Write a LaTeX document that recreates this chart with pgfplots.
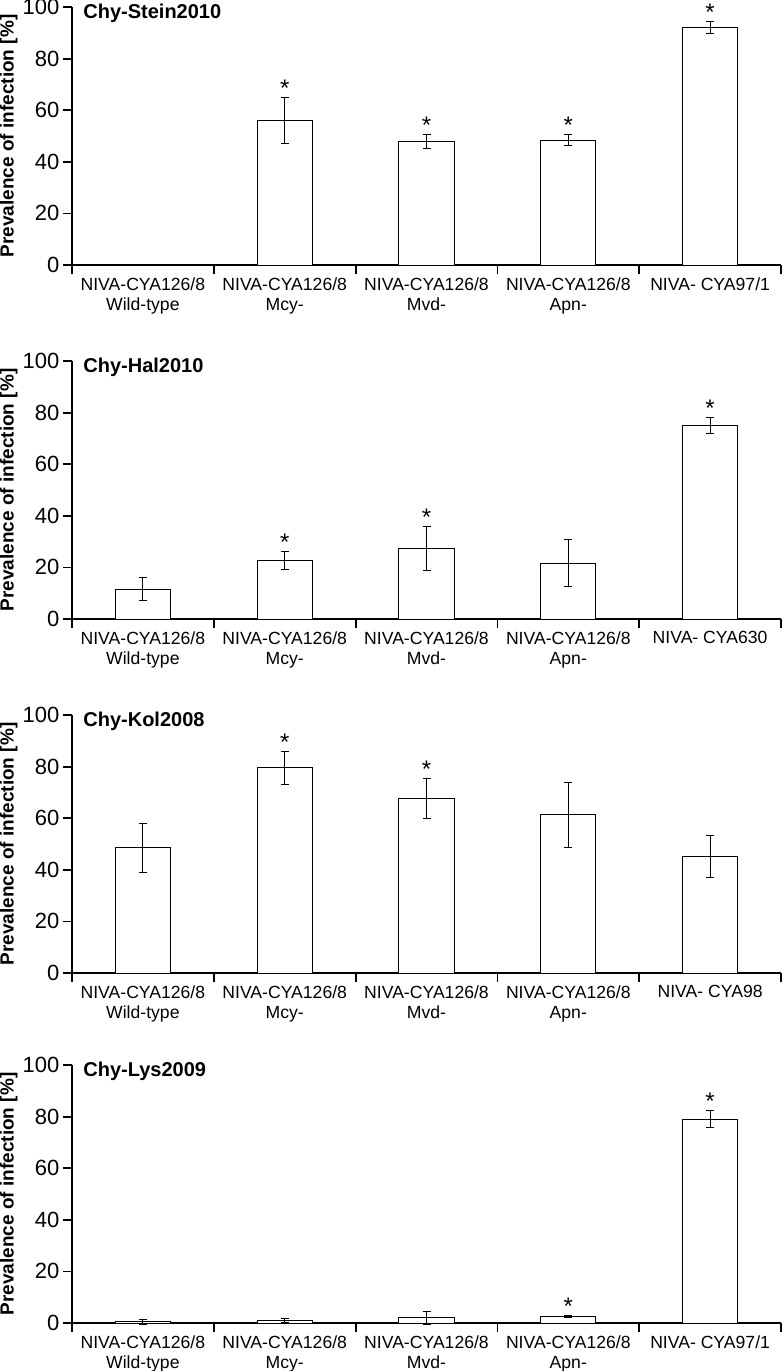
\documentclass[border=0pt]{standalone}
\usepackage{fontspec}
\setmainfont{Liberation Sans}
\usepackage{pgfplots}
\pgfplotsset{compat=1.18}

\pgfplotsset{
  panel/.style={
    scale only axis,
    width=354.5pt, height=129pt,
    xmin=-0.5, xmax=4.5, ymin=0, ymax=100,
    axis x line*=bottom, axis y line*=left,
    axis line style={line width=0.75pt, black},
    ytick={0,20,...,100},
    xtick={-0.5,0.5,...,4.5},
    x tick label as interval,
    xtick pos=bottom, ytick pos=left,
    tick align=outside,
    major tick length=4.5pt,
    major tick style={draw=black, line width=0.9pt},
    /pgf/number format/assume math mode=true,
    yticklabel style={font=\fontsize{11}{13}\selectfont, xshift=1.75pt},
    xticklabel style={align=center, font=\fontsize{8.8}{10}\selectfont, yshift=1.75pt},
    ylabel={\bfseries Prevalence of infection [\%]},
    ylabel style={at={(axis description cs:-0.0762,0.5)}, anchor=south,
                  inner sep=0pt, font=\fontsize{9.5}{11}\selectfont},
    clip=false,
  },
  bars/.style={
    ybar, bar width=0.39, bar shift=0pt,
    fill=white, draw=black, line width=0.5pt,
    error bars/.cd, y dir=both, y explicit,
    error bar style={line width=0.5pt, black},
    error mark options={rotate=90, mark size=2pt, line width=0.5pt, black},
  },
  stars/.style={
    draw=none, mark=none,
    nodes near coords={*},
    every node near coord/.append style={anchor=base, yshift=0.5pt,
      inner sep=0pt, font=\fontsize{12}{12}\selectfont},
  },
}
\newcommand{\paneltitle}[1]{%
  \node[anchor=base west, inner sep=0pt, xshift=5.5pt, yshift=-5.75pt,
        font=\bfseries\fontsize{10}{12}\selectfont] at (rel axis cs:0,1) {#1};}

\begin{document}
\begin{tikzpicture}

% Chy-Stein2010
\begin{axis}[panel, at={(0,0)}, anchor=north west,
  xticklabels={{NIVA-CYA126/8\\Wild-type},{NIVA-CYA126/8\\Mcy-},
               {NIVA-CYA126/8\\Mvd-},{NIVA-CYA126/8\\Apn-},{NIVA- CYA97/1\\\strut},{}}]
\addplot[bars] coordinates {
  (1,56.0) +- (0,9.0)
  (2,47.8) +- (0,2.8)
  (3,48.3) +- (0,2.1)
  (4,92.2) +- (0,2.3)
};
\addplot[stars] coordinates {(1,65.0) (2,50.6) (3,50.4) (4,94.5)};
\paneltitle{Chy-Stein2010}
\end{axis}

% Chy-Hal2010
\begin{axis}[panel, at={(0,-177pt)}, anchor=north west,
  xticklabels={{NIVA-CYA126/8\\Wild-type},{NIVA-CYA126/8\\Mcy-},
               {NIVA-CYA126/8\\Mvd-},{NIVA-CYA126/8\\Apn-},{NIVA- CYA630\\\strut},{}}]
\addplot[bars] coordinates {
  (0,11.5) +- (0,4.5)
  (1,22.7) +- (0,3.4)
  (2,27.3) +- (0,8.5)
  (3,21.6) +- (0,9.1)
  (4,75.0) +- (0,3.2)
};
\addplot[stars] coordinates {(1,26.1) (2,35.8) (4,78.2)};
\paneltitle{Chy-Hal2010}
\end{axis}

% Chy-Kol2008
\begin{axis}[panel, at={(0,-354pt)}, anchor=north west,
  xticklabels={{NIVA-CYA126/8\\Wild-type},{NIVA-CYA126/8\\Mcy-},
               {NIVA-CYA126/8\\Mvd-},{NIVA-CYA126/8\\Apn-},{NIVA- CYA98\\\strut},{}}]
\addplot[bars] coordinates {
  (0,48.5) +- (0,9.4)
  (1,79.5) +- (0,6.3)
  (2,67.7) +- (0,7.8)
  (3,61.3) +- (0,12.6)
  (4,45.2) +- (0,8.0)
};
\addplot[stars] coordinates {(1,85.8) (2,75.5)};
\paneltitle{Chy-Kol2008}
\end{axis}

% Chy-Lys2009
\begin{axis}[panel, at={(0,-529pt)}, anchor=north west,
  xticklabels={{NIVA-CYA126/8\\Wild-type},{NIVA-CYA126/8\\Mcy-},
               {NIVA-CYA126/8\\Mvd-},{NIVA-CYA126/8\\Apn-},{NIVA- CYA97/1\\\strut},{}}]
\addplot[bars] coordinates {
  (0,0.5) +- (0,1.0)
  (1,0.9) +- (0,0.8)
  (2,2.1) +- (0,2.5)
  (3,2.5) +- (0,0.5)
  (4,79.0) +- (0,3.2)
};
\addplot[stars] coordinates {(3,3.1) (4,82.2)};
\paneltitle{Chy-Lys2009}
\end{axis}

\pgfresetboundingbox
\path[use as bounding box] (-36pt,3.5pt) rectangle (355.5pt,-682pt);
\end{tikzpicture}
\end{document}
